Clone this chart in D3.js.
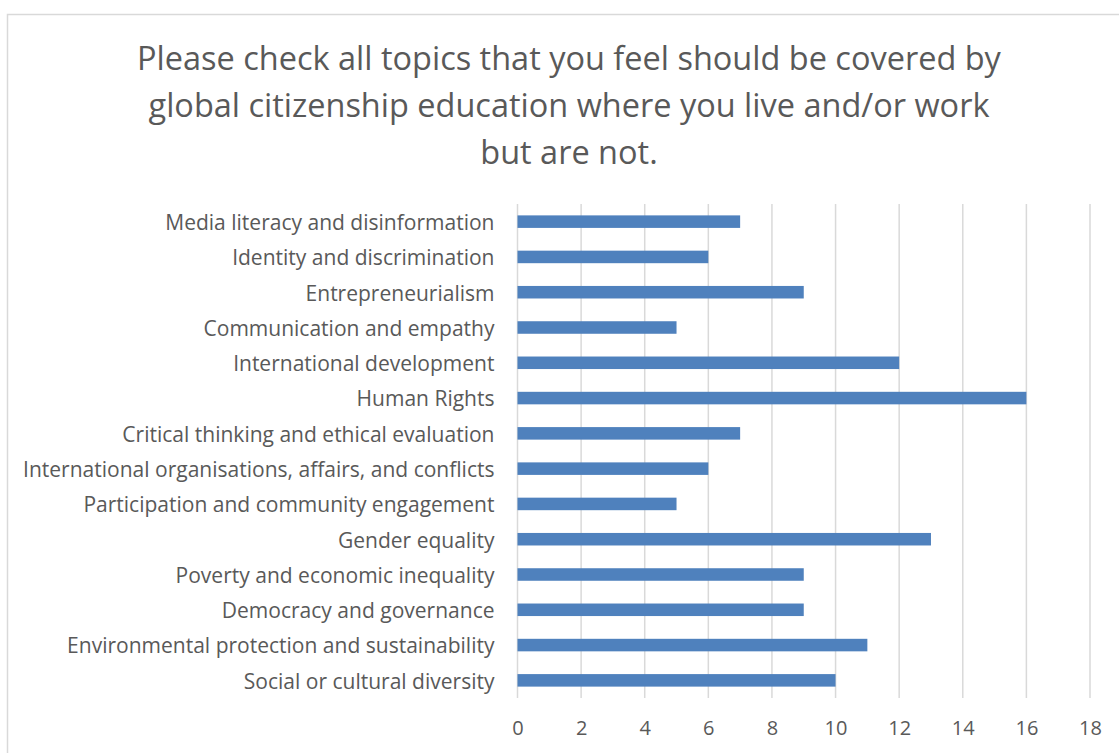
<!DOCTYPE html>
<html>
<head>
<meta charset="utf-8">
<script src="https://cdn.jsdelivr.net/npm/d3@7"></script>
<style>
  html, body { margin: 0; padding: 0; background: #fff; }
  svg { display: block; }
</style>
</head>
<body>
<div id="chart"></div>
<script>
// Chart data, top row first
var categories = [
  'Media literacy and disinformation',
  'Identity and discrimination',
  'Entrepreneurialism',
  'Communication and empathy',
  'International development',
  'Human Rights',
  'Critical thinking and ethical evaluation',
  'International organisations, affairs, and conflicts',
  'Participation and community engagement',
  'Gender equality',
  'Poverty and economic inequality',
  'Democracy and governance',
  'Environmental protection and sustainability',
  'Social or cultural diversity'
];
var counts = [7, 6, 9, 5, 12, 16, 7, 6, 5, 13, 9, 9, 11, 10];
var tickValues = [0, 2, 4, 6, 8, 10, 12, 14, 16, 18];
var titleLines = [
  'Please check all topics that you feel should be covered by',
  'global citizenship education where you live and/or work',
  'but are not.'
];

// Look constants
var COLORS = {
  BAR:  '#4f81bd',
  GRID: '#d9d9d9',
  TEXT: '#595959',
  BORDER: '#d9d9d9'
};
var FONT = '"Open Sans", "Noto Sans", sans-serif';
var WIDTH = 1119, HEIGHT = 753;
var PLOT = { left: 517.5, right: 1090, top: 204, bottom: 698 };

var svg = d3.select('#chart').append('svg')
  .attr('width', WIDTH)
  .attr('height', HEIGHT);

// Outer chart border (runs off the right and bottom edges)
svg.append('rect')
  .attr('x', 7.5).attr('y', 14.5)
  .attr('width', WIDTH + 20).attr('height', HEIGHT + 20)
  .attr('fill', '#fff')
  .attr('stroke', COLORS.BORDER)
  .attr('stroke-width', 1.5);

var x = d3.scaleLinear()
  .domain([0, 18])
  .range([PLOT.left, PLOT.right]);

var y = d3.scaleBand()
  .domain(categories)
  .range([PLOT.top, PLOT.bottom])
  .paddingInner(0.645)
  .paddingOuter(0.3225);

// Gridlines
svg.append('g')
  .selectAll('line')
  .data(tickValues)
  .join('line')
  .attr('x1', function(d) { return x(d); })
  .attr('x2', function(d) { return x(d); })
  .attr('y1', PLOT.top)
  .attr('y2', PLOT.bottom)
  .attr('stroke', COLORS.GRID)
  .attr('stroke-width', 1.5);

// Bars
svg.append('g')
  .selectAll('rect')
  .data(counts)
  .join('rect')
  .attr('x', x(0))
  .attr('y', function(d, i) { return y(categories[i]); })
  .attr('width', function(d) { return x(d) - x(0); })
  .attr('height', y.bandwidth())
  .attr('fill', COLORS.BAR);

// X axis tick labels, no axis line
var xAxis = svg.append('g')
  .attr('transform', 'translate(0,' + PLOT.bottom + ')')
  .call(d3.axisBottom(x).tickValues(tickValues).tickSize(0).tickPadding(23));
xAxis.select('.domain').remove();
xAxis.selectAll('text')
  .attr('font-family', FONT)
  .attr('font-size', '20px')
  .attr('fill', COLORS.TEXT);

// Y axis category labels
var yAxis = svg.append('g')
  .attr('transform', 'translate(' + PLOT.left + ',0)')
  .call(d3.axisLeft(y).tickSize(0).tickPadding(23));
yAxis.select('.domain').remove();
var labels = yAxis.selectAll('text')
  .attr('font-family', FONT)
  .attr('font-size', '18px')
  .attr('fill', COLORS.TEXT);

// Scale label font so the longest label spans what the picture shows
var longest = d3.max(labels.nodes(), function(n) { return n.getComputedTextLength(); });
labels.attr('font-size', (18 * 472 / longest) + 'px')
  .attr('dy', '0.4em');

// Title
var title = svg.append('g')
  .selectAll('text')
  .data(titleLines)
  .join('text')
  .attr('x', 569)
  .attr('y', function(d, i) { return 70 + i * 47; })
  .attr('text-anchor', 'middle')
  .attr('font-family', FONT)
  .attr('font-size', '30px')
  .attr('fill', COLORS.TEXT)
  .text(function(d) { return d; });

var firstWidth = title.nodes()[0].getComputedTextLength();
title.attr('font-size', (30 * 864 / firstWidth) + 'px');
</script>
</body>
</html>
